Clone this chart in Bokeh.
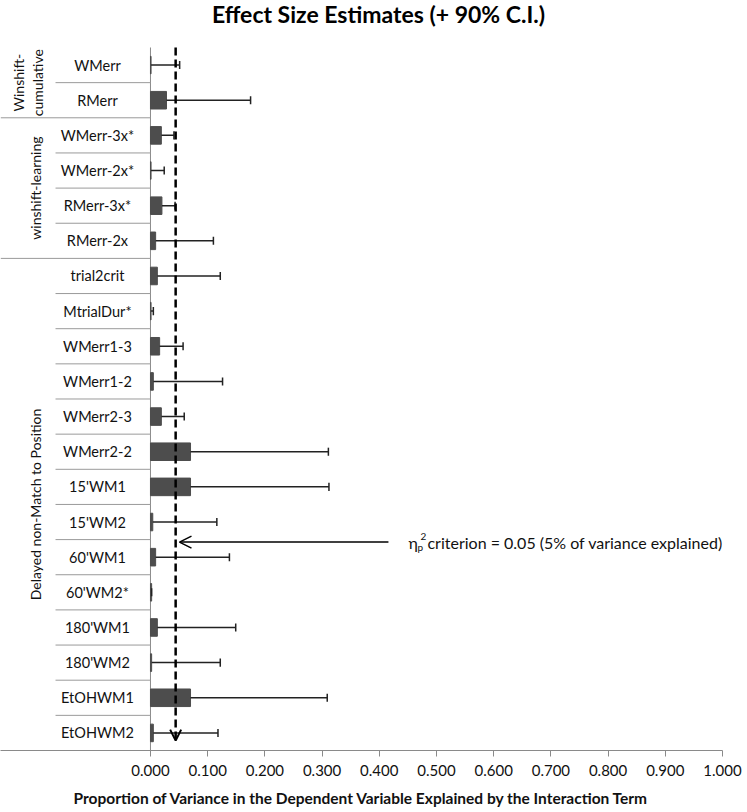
import math
from bokeh.plotting import figure
from bokeh.models import Range1d, FixedTicker, Arrow, OpenHead, ColumnDataSource
from bokeh.core.properties import value
from bokeh.embed import file_html
from bokeh.resources import INLINE

# ---------------- data ----------------
CATEGORIES = ["WMerr", "RMerr", "WMerr-3x*", "WMerr-2x*", "RMerr-3x*", "RMerr-2x",
              "trial2crit", "MtrialDur*", "WMerr1-3", "WMerr1-2", "WMerr2-3", "WMerr2-2",
              "15'WM1", "15'WM2", "60'WM1", "60'WM2*", "180'WM1", "180'WM2",
              "EtOHWM1", "EtOHWM2"]
ETA = [0.001, 0.028, 0.019, 0.001, 0.020, 0.009,
       0.012, 0.001, 0.016, 0.005, 0.019, 0.070,
       0.070, 0.004, 0.009, 0.002, 0.012, 0.002,
       0.070, 0.005]
UPPER = [0.051, 0.175, 0.041, 0.024, 0.043, 0.110,
         0.122, 0.005, 0.057, 0.126, 0.059, 0.311,
         0.312, 0.116, 0.138, 0.002, 0.149, 0.122,
         0.309, 0.118]
GROUPS = [["Winshift-", "cumulative"], ["winshift-learning"], ["Delayed non-Match to Position"]]
GROUP_SIZES = [2, 4, 14]
TICKS = [0.0, 0.1, 0.2, 0.3, 0.4, 0.5, 0.6, 0.7, 0.8, 0.9, 1.0]
TICK_LABELS = ["0.000", "0.100", "0.200", "0.300", "0.400", "0.500",
               "0.600", "0.700", "0.800", "0.900", "1.000"]
CRITERION_LINE = 0.044
TITLE = "Effect Size Estimates (+ 90% C.I.)"
XLABEL = "Proportion of Variance in the Dependent Variable Explained by the Interaction Term"
NOTE = "criterion = 0.05 (5% of variance explained)"

FONT = "Lato"
n = len(CATEGORIES)
ys = [i + 0.5 for i in range(n)]

p = figure(width=747, height=812,
           x_range=Range1d(-0.2622, 1.0), y_range=Range1d(float(n), -1.337),
           output_backend="svg", toolbar_location=None,
           min_border_left=0, min_border_top=0, min_border_right=25, min_border_bottom=62,
           y_axis_location=None)
p.outline_line_color = None
p.xgrid.visible = False
p.ygrid.visible = False
p.background_fill_color = "white"

ax = p.xaxis[0]
ax.ticker = FixedTicker(ticks=TICKS)
ax.major_label_overrides = {t: l for t, l in zip(TICKS, TICK_LABELS)}
ax.minor_tick_line_color = None
ax.major_tick_in = 0
ax.major_tick_out = 6
ax.axis_line_color = "#8a8a8a"
ax.major_tick_line_color = "#8a8a8a"
ax.major_label_text_font = FONT
ax.major_label_text_font_size = "15px"
ax.major_label_text_color = "#111111"
ax.major_label_standoff = 8
ax.axis_label = XLABEL
ax.axis_label_text_font = FONT
ax.axis_label_text_font_style = "bold"
ax.axis_label_text_font_size = "15.5px"
ax.axis_label_text_color = "#111111"
ax.axis_label_standoff = 10

# vertical category axis line
p.segment(x0=[0], y0=[0], x1=[0], y1=[n], line_color="#8a8a8a", line_width=1)

# separators between categories (short) and between groups (long)
bounds = []
acc = 0
for s in GROUP_SIZES:
    acc += s
    bounds.append(acc)
short_y = [i for i in range(1, n) if i not in bounds]
long_y = [b for b in bounds if b < n]
p.segment(x0=[-0.166] * len(short_y), y0=short_y, x1=[0] * len(short_y), y1=short_y,
          line_color="#9a9a9a", line_width=1)
p.segment(x0=[-0.262] * len(long_y), y0=long_y, x1=[0] * len(long_y), y1=long_y,
          line_color="#9a9a9a", line_width=1)

# category labels
p.text(x=[-0.0927] * n, y=ys, text=CATEGORIES, text_align="center", text_baseline="middle",
       text_font=value(FONT), text_font_size="14.5px", text_color="#111111")

# group labels (rotated)
start = 0
for lines, s in zip(GROUPS, GROUP_SIZES):
    yc = start + s / 2
    if len(lines) == 2:
        xs = [-0.2308, -0.1976]
    else:
        xs = [-0.201]
    p.text(x=xs, y=[yc] * len(lines), text=lines, angle=math.pi / 2,
           text_align="center", text_baseline="middle",
           text_font=value(FONT), text_font_size="14px", text_color="#111111")
    start += s

# bars
src = ColumnDataSource(dict(y=ys, eta=ETA, upper=UPPER, cap0=[v - 0.115 for v in ys],
                            cap1=[v + 0.115 for v in ys]))
p.hbar(y="y", left=0, right="eta", height=0.5, source=src,
       fill_color="#4d4d4d", line_color="#4d4d4d")
# error bars
p.segment(x0="eta", y0="y", x1="upper", y1="y", source=src, line_color="#222222", line_width=1.5)
p.segment(x0="upper", y0="cap0", x1="upper", y1="cap1", source=src, line_color="#222222",
          line_width=1.5)

# criterion dashed arrow
p.add_layout(Arrow(end=OpenHead(size=11, line_width=2, line_color="black"),
                   x_start=CRITERION_LINE, y_start=0, x_end=CRITERION_LINE, y_end=19.72,
                   line_width=2.5, line_dash="8 4", line_color="black"))
# annotation arrow
ay = 14.07
p.add_layout(Arrow(end=OpenHead(size=12, line_width=1.5, line_color="black"),
                   x_start=0.416, y_start=ay, x_end=0.0507, y_end=ay,
                   line_width=1.5, line_color="black"))
tx = 0.451
p.text(x=[tx], y=[ay], text=["\u03b7"], text_align="left", text_baseline="middle",
       text_font=value(FONT), text_font_size="16px", text_color="#111111")
p.text(x=[tx], y=[ay], text=["p"], x_offset=9, y_offset=5, text_align="left",
       text_baseline="middle", text_font=value(FONT), text_font_size="10px", text_color="#111111")
p.text(x=[tx], y=[ay], text=["2"], x_offset=12, y_offset=-6, text_align="left",
       text_baseline="middle", text_font=value(FONT), text_font_size="10px", text_color="#111111")
p.text(x=[tx], y=[ay], text=[NOTE], x_offset=19, text_align="left", text_baseline="middle",
       text_font=value(FONT), text_font_size="16px", text_color="#111111")

# title
p.text(x=[0.3986], y=[-0.967], text=[TITLE], text_align="center", text_baseline="middle",
       text_font=value(FONT), text_font_size="23px", text_font_style="bold", text_color="black")

open("out.html", "w").write(file_html(p, INLINE))
